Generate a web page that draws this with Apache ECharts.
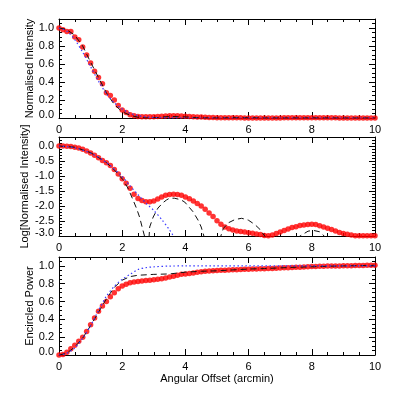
<!DOCTYPE html>
<html><head><meta charset="utf-8">
<script src="https://cdn.jsdelivr.net/npm/echarts@6/dist/echarts.min.js"></script>
<style>html,body{margin:0;padding:0;background:#fff}#c{width:395px;height:395px}</style>
</head><body><div id="c"></div>
<script>
// ---- data ----
const offsetArcmin = [0,0.125,0.25,0.375,0.5,0.625,0.75,0.875,1,1.125,1.25,1.375,1.5,1.625,1.75,1.875,2,2.125,2.25,2.375,2.5,2.625,2.75,2.875,3,3.125,3.25,3.375,3.5,3.625,3.75,3.875,4,4.125,4.25,4.375,4.5,4.625,4.75,4.875,5,5.125,5.25,5.375,5.5,5.625,5.75,5.875,6,6.125,6.25,6.375,6.5,6.625,6.75,6.875,7,7.125,7.25,7.375,7.5,7.625,7.75,7.875,8,8.125,8.25,8.375,8.5,8.625,8.75,8.875,9,9.125,9.25,9.375,9.5,9.625,9.75,9.875,10];
const measuredIntensity = [1.00,0.98,0.96,0.96,0.90,0.87,0.79,0.70,0.61,0.52,0.45,0.38,0.28,0.25,0.20,0.14,0.09,0.06,0.035,0.025,0.018,0.015,0.014,0.014,0.015,0.017,0.02,0.023,0.024,0.025,0.024,0.023,0.02,0.017,0.015,0.012,0.01,0.008,0.006,0.0045,0.0032,0.0025,0.002,0.0017,0.0016,0.0015,0.0014,0.0013,0.0013,0.0012,0.0012,0.0011,0.0011,0.001,0.0011,0.0012,0.0013,0.0015,0.0017,0.0019,0.002,0.0022,0.0023,0.0024,0.0025,0.0024,0.0022,0.002,0.0018,0.0017,0.0015,0.0013,0.0012,0.0011,0.0011,0.001,0.001,0.001,0.001,0.001,0.001];
const measuredLogIntensity = [0.00,0.00,-0.01,-0.02,-0.04,-0.07,-0.11,-0.17,-0.23,-0.31,-0.39,-0.48,-0.56,-0.65,-0.78,-0.93,-1.09,-1.24,-1.41,-1.61,-1.75,-1.82,-1.86,-1.86,-1.83,-1.77,-1.70,-1.64,-1.62,-1.61,-1.62,-1.64,-1.70,-1.76,-1.83,-1.92,-2.00,-2.11,-2.23,-2.35,-2.49,-2.61,-2.70,-2.76,-2.80,-2.83,-2.85,-2.87,-2.89,-2.91,-2.93,-2.95,-2.98,-2.99,-2.97,-2.92,-2.87,-2.82,-2.77,-2.72,-2.69,-2.65,-2.63,-2.62,-2.61,-2.62,-2.66,-2.70,-2.74,-2.78,-2.83,-2.88,-2.92,-2.94,-2.97,-2.99,-2.99,-2.99,-2.99,-2.99,-2.99];
const measuredEncircled = [0.00,0.005,0.03,0.07,0.11,0.155,0.20,0.265,0.34,0.415,0.49,0.55,0.60,0.655,0.70,0.745,0.775,0.795,0.81,0.82,0.825,0.83,0.835,0.84,0.845,0.85,0.855,0.865,0.875,0.885,0.895,0.905,0.91,0.915,0.92,0.93,0.935,0.94,0.943,0.946,0.948,0.95,0.952,0.954,0.956,0.958,0.96,0.962,0.963,0.965,0.966,0.967,0.968,0.97,0.972,0.974,0.976,0.978,0.98,0.982,0.984,0.986,0.988,0.99,0.992,0.994,0.996,0.997,0.998,0.999,1.0,1.0,1.001,1.002,1.003,1.004,1.005,1.005,1.006,1.006,1.007];

const airyLinX = [0,0.25,0.5,0.75,1,1.25,1.5,1.75,2,2.25,2.5,2.75,3,3.5,4,4.5,5,5.5,6,6.5,7,7.5,8,8.5,9,10];
const airyLinY = [1,0.98,0.92,0.80,0.62,0.45,0.28,0.15,0.07,0.03,0.008,0.001,0.003,0.017,0.012,0.002,0.0005,0.003,0.003,0.0005,0.0005,0.0008,0.0013,0.0008,0.0002,0.0005];
const gaussLinX = [0,0.25,0.5,0.75,1,1.25,1.5,1.75,2,2.25,2.5,2.75,3,3.5,4,5,10];
const gaussLinY = [1,0.965,0.87,0.73,0.57,0.41,0.27,0.17,0.10,0.053,0.027,0.013,0.006,0.001,0.0002,0,0];

const airyLogX = [0,0.5,1,1.5,1.8,2.02,2.18,2.34,2.45,2.55,2.63,2.71,2.75,2.8,2.84,2.87,2.98,3.13,3.29,3.4,3.5,3.65,3.85,3.98,4.24,4.4,4.5,4.59,4.65,4.85,5.05,5.09,5.2,5.36,5.57,5.78,5.99,6.2,6.36,6.52,6.6,7.0,7.5,7.6,7.88,8.04,8.25,8.41,8.5,9,10];
const airyLogY = [0,-0.04,-0.22,-0.55,-0.85,-1.12,-1.40,-1.79,-2.07,-2.37,-2.70,-3.02,-3.4,-3.6,-3.2,-2.70,-2.37,-2.07,-1.89,-1.80,-1.74,-1.74,-1.79,-1.87,-2.19,-2.47,-2.70,-3.02,-3.4,-3.8,-3.4,-3.1,-2.75,-2.56,-2.45,-2.41,-2.47,-2.62,-2.78,-3.02,-3.3,-3.8,-3.3,-3.02,-2.84,-2.81,-2.86,-3.02,-3.3,-3.6,-3.4];
const gaussLogX = [0,0.5,1,1.5,2,2.25,2.5,2.75,3,3.25,3.5,3.65,3.8];
const gaussLogY = [0,-0.06,-0.24,-0.55,-1.02,-1.33,-1.62,-1.90,-2.15,-2.45,-2.80,-3.05,-3.3];

const airyEEX = [0,0.25,0.5,0.75,1,1.25,1.5,1.75,2,2.25,2.5,3,3.5,4,4.5,5,5.5,6,6.5,7,7.5,8,8.5,9,9.5,10];
const airyEEY = [0,0.02,0.09,0.19,0.33,0.48,0.63,0.76,0.84,0.88,0.895,0.905,0.91,0.93,0.94,0.945,0.955,0.965,0.97,0.978,0.985,0.99,0.996,1.0,1.003,1.006];
const gaussEEX = [0,0.25,0.5,0.75,1,1.25,1.5,1.75,2,2.25,2.5,2.75,3,3.5,4,10];
const gaussEEY = [0,0.02,0.08,0.19,0.33,0.50,0.66,0.77,0.85,0.905,0.96,0.98,0.99,0.998,1.0,1.0];

const xTicks = {min:0, max:10, interval:2};
const yTitles = ['Normalised Intensity','Log[Normalised Intensity]','Encircled Power'];
const xTitle = 'Angular Offset (arcmin)';

// ---- chart ----
const zip = (xs, ys) => xs.map((x, i) => [x, ys[i]]);
const FONT = 'Liberation Sans';
const grids = [
  {left:59, right:20, top:19, height:99},
  {left:59, right:20, top:137, height:99},
  {left:59, right:20, top:257, height:98}
];
const yCfg = [
  {min:0, max:1.1, interval:0.2, minor:4, gap:24},
  {min:-3, max:0.3, interval:0.5, minor:5, gap:29},
  {min:0, max:1.1, interval:0.2, minor:4, gap:24}
];
const tickStyle = {color:'#000', width:1};
const xAxes = [], yAxes = [];
grids.forEach((g, i) => {
  ['bottom','top'].forEach(pos => {
    xAxes.push({
      type:'value', gridIndex:i, position:pos, min:xTicks.min, max:xTicks.max, interval:xTicks.interval,
      axisLine:{show:true, onZero:false, lineStyle:{color:'#000', width:1}},
      axisTick:{show:true, inside:true, length:6, lineStyle:tickStyle},
      minorTick:{show:true, splitNumber:4, length:3, lineStyle:tickStyle},
      splitLine:{show:false},
      axisLabel:{show:pos==='bottom', color:'#000', fontFamily:FONT, fontSize:11, margin:6},
      name:(pos==='bottom' && i===2) ? xTitle : '',
      nameLocation:'middle', nameGap:18, nameMoveOverlap:false,
      nameTextStyle:{color:'#000', fontFamily:FONT, fontSize:11}
    });
  });
  ['left','right'].forEach(pos => {
    const c = yCfg[i];
    yAxes.push({
      type:'value', gridIndex:i, position:pos, min:c.min, max:c.max, interval:c.interval,
      axisLine:{show:true, onZero:false, lineStyle:{color:'#000', width:1}},
      axisTick:{show:true, inside:true, length:6, lineStyle:tickStyle},
      minorTick:{show:true, splitNumber:c.minor, length:3, lineStyle:tickStyle},
      splitLine:{show:false},
      axisLabel:{show:pos==='left', showMaxLabel:false, color:'#000', fontFamily:FONT, fontSize:11, margin:5,
        formatter: v => (Math.abs(v - c.min) < 1e-9 ? '{lo|' + v.toFixed(1) + '}' : v.toFixed(1)),
        rich:{lo:{color:'#000', fontFamily:FONT, fontSize:11, padding:[0,0,6,0]}}},
      name: pos==='left' ? yTitles[i] : '',
      nameLocation:'middle', nameGap:c.gap, nameMoveOverlap:false,
      nameTextStyle:{color:'#000', fontFamily:FONT, fontSize:11}
    });
  });
});

function dots(i, ys) {
  return {type:'scatter', xAxisIndex:2*i, yAxisIndex:2*i, data: zip(offsetArcmin, ys),
    symbol:'circle', symbolSize:5.5, itemStyle:{color:'#ff0000'}, clip:true, silent:true, z:1};
}
function dashed(i, xs, ys) {
  return {type:'line', xAxisIndex:2*i, yAxisIndex:2*i, data: zip(xs, ys), symbol:'none', clip:true,
    lineStyle:{color:'#111', width:1, type:[6,4]}, silent:true, z:3};
}
function dotted(i, xs, ys) {
  return {type:'line', xAxisIndex:2*i, yAxisIndex:2*i, data: zip(xs, ys), symbol:'none', clip:true, smooth:0.3,
    lineStyle:{color:'#3a3aff', width:1.2, type:[1.5,2.5]}, silent:true, z:4};
}

const chart = echarts.init(document.getElementById('c'), null, {renderer:'canvas'});
chart.setOption({
  animation:false,
  backgroundColor:'#fff',
  grid: grids,
  xAxis: xAxes,
  yAxis: yAxes,
  series: [
    dots(0, measuredIntensity), dashed(0, airyLinX, airyLinY), dotted(0, gaussLinX, gaussLinY),
    dots(1, measuredLogIntensity), dashed(1, airyLogX, airyLogY), dotted(1, gaussLogX, gaussLogY),
    dots(2, measuredEncircled), dashed(2, airyEEX, airyEEY), dotted(2, gaussEEX, gaussEEY)
  ]
});
</script></body></html>
